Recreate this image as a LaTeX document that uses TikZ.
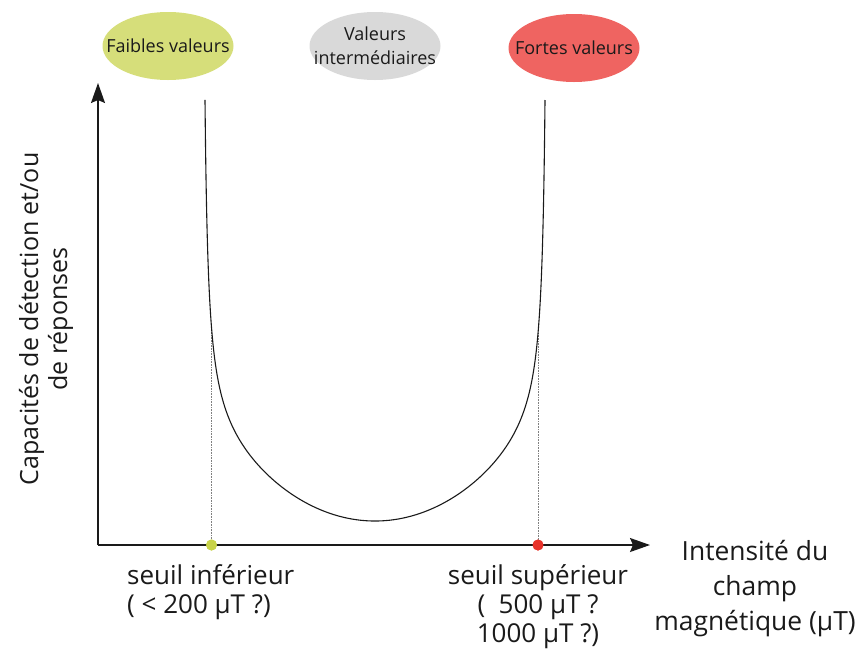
\documentclass[tikz,border=0pt]{standalone}
\usepackage{fontspec}
\setmainfont{Open Sans}
\usetikzlibrary{arrows.meta,shapes.geometric}
\definecolor{cgreen}{HTML}{D6DE7A}
\definecolor{cgray}{HTML}{D9D9D9}
\definecolor{cred}{HTML}{EF6461}
\definecolor{dotgreen}{HTML}{C8D34A}
\definecolor{dotred}{HTML}{E8332B}
\definecolor{ink}{HTML}{1A1A1A}
\begin{document}
\begin{tikzpicture}[x=1pt,y=-1pt,
  cat/.style={ellipse, minimum width=131pt, minimum height=68pt, inner sep=0pt},
  cattext/.style={inner sep=0pt, align=center, text=ink, font=\fontsize{18}{24}\selectfont},
  axis/.style={line width=1.6pt, draw=ink, -{Stealth[length=20pt,width=14pt,inset=3pt]}},
  curve/.style={line width=1.1pt, draw=ink},
  guide/.style={densely dotted, line width=0.6pt, draw=gray},
  seuil/.style={circle, inner sep=0pt, minimum size=11pt},
  lab/.style={inner sep=0pt, text=ink, font=\fontsize{26}{29}\selectfont},
  axlab/.style={inner sep=0pt, text=ink, font=\fontsize{25}{29}\selectfont},
  xlab/.style={inner sep=0pt, text=ink, font=\fontsize{26.4}{35}\selectfont}]
\useasboundingbox (0,0) rectangle (861,654);
% category ellipses
\node[cat, fill=cgreen] (faible) at (168,46) {};
\node[cattext] (faibletxt) at (faible.center) {Faibles valeurs};
\node[cat, fill=cgray] (inter) at (375,46) {};
\node[cattext] (intertxt) at (inter.center) {Valeurs\\intermédiaires};
\node[cat, fill=cred] (forte) at (574,48) {};
\node[cattext] (fortetxt) at (forte.center) {Fortes valeurs};
% axes
\coordinate (O) at (98,545);
\coordinate (ytip) at (98,83);
\coordinate (xtip) at (650,545);
% curve end points and threshold points
\coordinate (ltop) at (205,100);
\coordinate (rtop) at (545,100);
\coordinate (lcurve) at (211.5,327);
\coordinate (rcurve) at (538,333);
\node[seuil, fill=dotgreen] (sinf) at (211.5,545) {};
\node[seuil, fill=dotred] (ssup) at (538,545) {};
\draw[guide] (lcurve) -- (sinf.center);
\draw[guide] (rcurve) -- (ssup.center);
\draw[axis] (O) -- (ytip);
\draw[axis] (O) -- (xtip);
\node[seuil, fill=dotgreen] at (sinf) {};
\node[seuil, fill=dotred] at (ssup) {};
% U-shaped curve
\draw[curve] (ltop) -- plot[domain=-1:1, samples=400, variable=\t]
   ({375+170*sin(90*\t)},
    {521-(95.4*(sin(90*\t))^2+6.71*(1/(1.02-sin(90*\t))+1/(1.02+sin(90*\t))-1.961))})
   -- (rtop);
% labels
\node[lab, anchor=north west, align=left] (linf) at (127,564) {seuil inférieur\\( < 200 µT ?)};
\node[lab, anchor=north, align=center] (lsup) at (538,564) {seuil supérieur\\(\ \ 500 µT ?\\1000 µT ?)};
\node[xlab, anchor=north, align=center] (lx) at (755,540) {Intensité du\\champ\\magnétique (µT)};
\node[axlab, rotate=90, align=center] (ly) at (46,319) {Capacités de détection et/ou\\de réponses};
\end{tikzpicture}
\end{document}
